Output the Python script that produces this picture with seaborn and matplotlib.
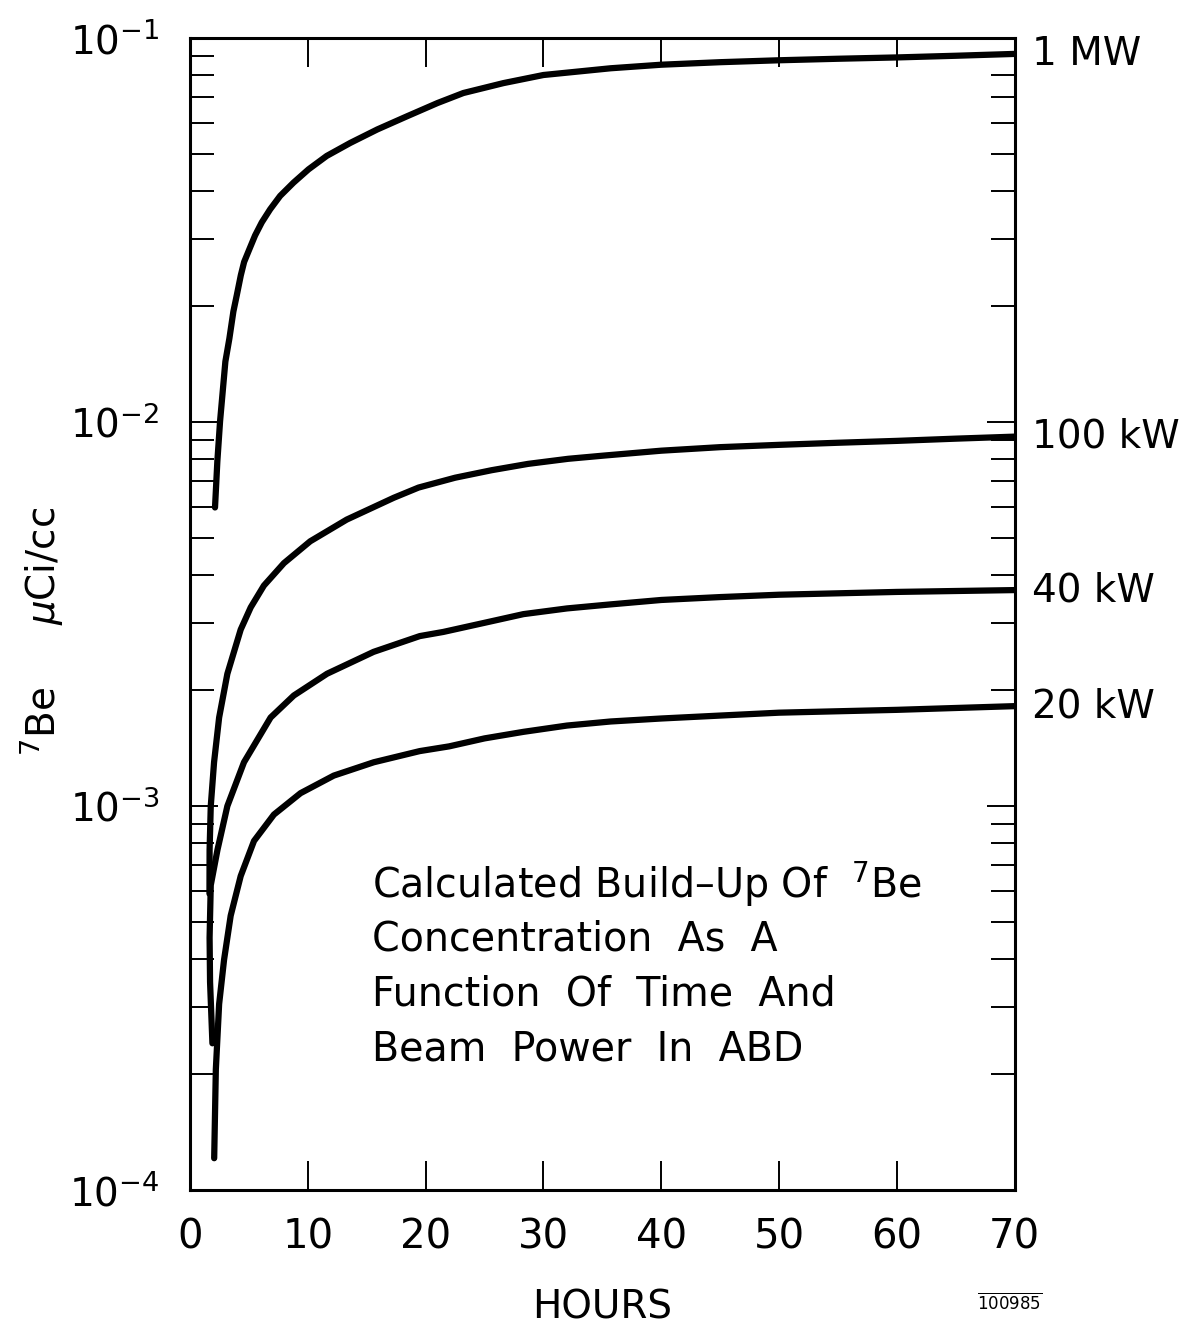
#! /usr/bin/python3
# -*- coding:utf-8 -*-
"""
sns - 7Be build-up curves, log scale.
"""
import pandas as pd
import seaborn as sns
import matplotlib.pyplot as plt
from matplotlib.ticker import LogLocator, FixedLocator, NullFormatter

# values (hours, uCi/cc)
hours_1mw = [2.12, 2.32, 2.55, 2.75, 3.0, 3.34, 3.68, 3.97, 4.31, 4.59, 5.04, 5.52, 6.09, 6.8, 7.65,
             8.78, 10.06, 11.6, 13.6, 15.9, 18.4, 21.0, 23.2, 26.6, 30.0, 35.7, 40, 45, 50, 55, 60, 65, 70]
conc_1mw = [5.99e-3, 7.91e-3, 1.005e-2, 1.178e-2, 1.437e-2, 1.65e-2, 1.94e-2, 2.14e-2, 2.41e-2, 2.61e-2,
            2.82e-2, 3.06e-2, 3.31e-2, 3.58e-2, 3.88e-2, 4.2e-2, 4.55e-2, 4.93e-2, 5.33e-2, 5.78e-2,
            6.25e-2, 6.77e-2, 7.19e-2, 7.63e-2, 8.01e-2, 8.34e-2, 8.52e-2, 8.65e-2, 8.75e-2, 8.83e-2,
            8.9e-2, 8.99e-2, 9.09e-2]

hours_100kw = [1.65, 1.66, 1.76, 2.04, 2.47, 3.17, 4.3, 5.15, 6.27, 7.97, 10.2, 13.3, 17.3, 19.4,
               22.5, 25.6, 28.7, 32.1, 35.2, 40, 45, 50, 55, 60, 65, 70]
conc_100kw = [5.91e-4, 7.69e-4, 1.0e-3, 1.3e-3, 1.7e-3, 2.21e-3, 2.88e-3, 3.29e-3, 3.75e-3, 4.29e-3,
              4.89e-3, 5.57e-3, 6.35e-3, 6.75e-3, 7.16e-3, 7.49e-3, 7.78e-3, 8.02e-3, 8.18e-3,
              8.42e-3, 8.6e-3, 8.72e-3, 8.83e-3, 8.93e-3, 9.05e-3, 9.16e-3]

hours_40kw = [1.9, 1.7, 1.66, 1.76, 2.33, 3.17, 4.58, 6.84, 8.81, 11.63, 15.58, 19.5, 21.5, 25,
              28.3, 32, 35.7, 40, 45, 50, 55, 60, 65, 70]
conc_40kw = [2.41e-4, 3.48e-4, 4.54e-4, 6.22e-4, 7.69e-4, 1.0e-3, 1.3e-3, 1.7e-3, 1.94e-3, 2.21e-3,
             2.52e-3, 2.77e-3, 2.84e-3, 3.0e-3, 3.16e-3, 3.27e-3, 3.35e-3, 3.44e-3, 3.5e-3, 3.55e-3,
             3.58e-3, 3.61e-3, 3.63e-3, 3.65e-3]

hours_20kw = [2.05, 2.19, 2.47, 2.89, 3.45, 4.3, 5.43, 7.12, 9.38, 12.2, 15.6, 19.5, 22, 25, 28.3,
              32, 35.7, 40, 45, 50, 55, 60, 65, 70]
conc_20kw = [1.21e-4, 2.06e-4, 3.05e-4, 3.98e-4, 5.18e-4, 6.57e-4, 8.11e-4, 9.5e-4, 1.08e-3, 1.2e-3,
             1.3e-3, 1.39e-3, 1.43e-3, 1.5e-3, 1.56e-3, 1.62e-3, 1.66e-3, 1.69e-3, 1.72e-3, 1.75e-3,
             1.765e-3, 1.78e-3, 1.8e-3, 1.82e-3]

power_labels = ['1 MW', '100 kW', '40 kW', '20 kW']
x_ticks = [0, 10, 20, 30, 40, 50, 60, 70]

all_hours = [hours_1mw, hours_100kw, hours_40kw, hours_20kw]
all_conc = [conc_1mw, conc_100kw, conc_40kw, conc_20kw]

frames = []
for name, h, c in zip(power_labels, all_hours, all_conc):
    frames.append(pd.DataFrame({'hours': h, 'conc': c, 'power': name}))
df = pd.concat(frames, ignore_index=True)

sns.set_theme(style='ticks')
plt.rcParams['font.family'] = ['DejaVu Sans']
plt.rcParams['mathtext.fontset'] = 'dejavusans'
plt.rcParams['text.color'] = 'black'
plt.rcParams['axes.labelcolor'] = 'black'

fig = plt.figure(figsize=(11.84, 13.24), dpi=100)
ax = fig.add_axes([0.1605, 0.1012, 0.6965, 0.8701])

sns.lineplot(data=df, x='hours', y='conc', units='power', estimator=None, sort=False,
             color='black', lw=4.5, ax=ax, legend=False,
             solid_capstyle='round', solid_joinstyle='round')

ax.set_yscale('log')
ax.set_xlim(0, 70)
ax.set_ylim(1e-4, 1e-1)

ax.xaxis.set_major_locator(FixedLocator(x_ticks))
ax.set_xticklabels([str(t) for t in x_ticks])
ax.yaxis.set_major_locator(LogLocator(base=10, numticks=10))
ax.yaxis.set_minor_locator(LogLocator(base=10, subs=range(2, 10), numticks=20))
ax.yaxis.set_minor_formatter(NullFormatter())

ax.tick_params(axis='both', which='both', direction='in', top=True, right=True,
               colors='black', width=1.4)
ax.tick_params(axis='x', which='major', length=21, labelsize=29, pad=20)
ax.tick_params(axis='y', which='major', length=20, labelsize=28, pad=22)
ax.tick_params(axis='y', which='minor', length=17)
for sp in ax.spines.values():
    sp.set_linewidth(2.2)
    sp.set_color('black')

ax.set_xlabel('HOURS', fontsize=28, labelpad=22)
ax.set_ylabel(r'$^7$Be     $\mu$Ci/cc', fontsize=28)
ax.yaxis.set_label_coords(-0.152, 0.485)

# curve labels at the right end of each curve
for name, h, c in zip(power_labels, all_hours, all_conc):
    ax.text(h[-1] + 1.5, c[-1], name, fontsize=28, va='center', ha='left', clip_on=False)

note = ['Calculated Build\u2013Up Of  $^7$Be', 'Concentration  As  A',
        'Function  Of  Time  And', 'Beam  Power  In  ABD']
for i, line in enumerate(note):
    ax.text(0.221, 0.265 - i * 0.0478, line, transform=ax.transAxes,
            fontsize=28.5, va='center', ha='left')

fig.text(0.853, 0.008, r'$\overline{\mathrm{100985}}$', fontsize=12, ha='center', va='bottom')

plt.savefig('out.png', dpi=100)
